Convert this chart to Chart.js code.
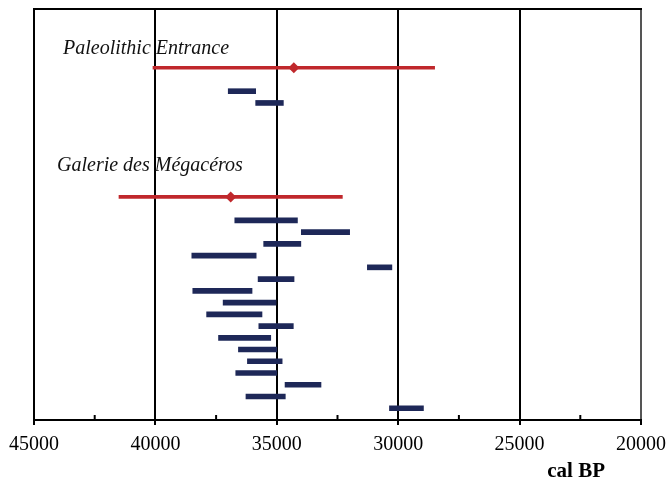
<!DOCTYPE html>
<html>
<head>
<meta charset="utf-8">
<script src="https://cdn.jsdelivr.net/npm/chart.js@4/dist/chart.umd.min.js"></script>
<style>
  html, body { margin: 0; padding: 0; background: #fff; }
  #wrap { width: 668px; height: 485px; }
</style>
</head>
<body>
<div id="wrap"><canvas id="datesChart"></canvas></div>
<script>
// site groups (red: mean with full range)
let groupNames = ["Paleolithic Entrance", "Galerie des Mégacéros"],
  groupRows = [0, 11],
  groupMean = [34300, 36900],
  groupOld = [40100, 41500],
  groupYoung = [28500, 32300];

// individual dates (navy bars), row index from top
let dateRows = [2, 3, 13, 14, 15, 16, 17, 18, 19, 20, 21, 22, 23, 24, 25, 26, 27, 28, 29],
  dateOld = [37000, 35870, 36730, 33990, 35540, 38500, 31270, 35770, 38460, 37210,
    37890, 35740, 37400, 36580, 36210, 36690, 34660, 36270, 30360],
  dateYoung = [35870, 34730, 34150, 32000, 34010, 35850, 30260, 34290, 36020, 35030,
    35610, 34320, 35250, 35000, 34780, 35000, 33180, 34650, 28960];

let xTicks = [45000, 40000, 35000, 30000, 25000, 20000];

let serif = "'Liberation Serif', 'Times New Roman', serif";

let decor = {
  id: "decor",
  afterDraw: (chart) => {
    let ctx = chart.ctx,
      area = chart.chartArea,
      x = chart.scales.x,
      y = chart.scales.y;
    ctx.save();
    // minor ticks, pointing into the plot
    ctx.strokeStyle = "#000";
    ctx.lineWidth = 2;
    for (let i = 0; i < xTicks.length - 1; i++) {
      let px = x.getPixelForValue((xTicks[i] + xTicks[i + 1]) / 2);
      ctx.beginPath();
      ctx.moveTo(px, area.bottom);
      ctx.lineTo(px, area.bottom - 5);
      ctx.stroke();
    }
    // group names
    let dx = [29, 23],
      dy = [19, 31];
    ctx.fillStyle = "#111";
    ctx.font = "italic 20px " + serif;
    ctx.textBaseline = "middle";
    ctx.textAlign = "left";
    groupNames.forEach((name, i) => {
      ctx.fillText(name, area.left + dx[i], y.getPixelForValue(groupRows[i]) - dy[i]);
    });
    // axis name
    ctx.font = "bold 21px " + serif;
    ctx.textAlign = "right";
    ctx.fillStyle = "#000";
    ctx.fillText("cal BP", 605, 472);
    ctx.restore();
  },
};

new Chart(document.getElementById("datesChart"), {
  type: "bar",
  data: {
    datasets: [
      {
        label: "dates",
        data: dateRows.map((r, i) => ({ y: r, x: [dateOld[i], dateYoung[i]] })),
        backgroundColor: "#1e2858",
        borderWidth: 0,
        barThickness: 5,
        grouped: false,
      },
      {
        label: "range",
        data: groupRows.map((r, i) => ({ y: r, x: [groupOld[i], groupYoung[i]] })),
        backgroundColor: "#c0282c",
        barThickness: 3,
        grouped: false,
      },
      {
        type: "scatter",
        label: "mean",
        data: groupRows.map((r, i) => ({ y: r, x: groupMean[i] })),
        pointStyle: "rectRot",
        pointRadius: 5.5,
        backgroundColor: "#c0282c",
        borderColor: "#c0282c",
        borderWidth: 0,
      },
    ],
  },
  options: {
    indexAxis: "y",
    responsive: true,
    maintainAspectRatio: false,
    animation: false,
    layout: { padding: { left: 34, right: 27, top: 9, bottom: 20 } },
    plugins: {
      legend: { display: false },
      tooltip: { enabled: false },
    },
    scales: {
      x: {
        type: "linear",
        position: "bottom",
        reverse: true,
        min: 20000,
        max: 45000,
        afterBuildTicks: (axis) => {
          axis.ticks = xTicks.map((v) => ({ value: v }));
        },
        afterFit: (axis) => {
          axis.paddingLeft = 0;
          axis.paddingRight = 0;
        },
        ticks: {
          color: "#000",
          padding: 8,
          maxRotation: 0,
          font: { family: serif, size: 20 },
          callback: (v) => String(v),
        },
        grid: {
          color: (c) => (c.tick && c.tick.value === 20000 ? "#555" : "#000"),
          lineWidth: 2,
          tickLength: 5,
          tickColor: "#000",
          tickWidth: 2,
        },
        border: { color: "#000", width: 2 },
      },
      xTop: {
        type: "linear",
        position: "top",
        reverse: true,
        min: 20000,
        max: 45000,
        ticks: { display: false },
        grid: { drawOnChartArea: false, drawTicks: false },
        border: { color: "#000", width: 2 },
      },
      y: {
        type: "linear",
        reverse: true,
        offset: false,
        min: -5,
        max: 30,
        ticks: { display: false },
        grid: { drawOnChartArea: false, drawTicks: false, offset: false },
        border: { color: "#000", width: 2 },
      },
    },
  },
  plugins: [decor],
});
</script>
</body>
</html>
